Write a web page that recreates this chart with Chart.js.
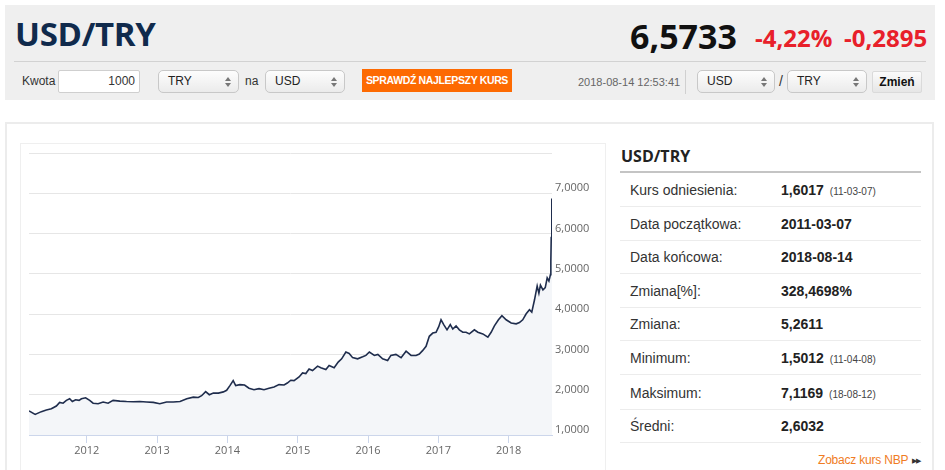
<!DOCTYPE html>
<html lang="pl">
<head>
<meta charset="utf-8">
<title>USD/TRY</title>
<script src="https://cdn.jsdelivr.net/npm/chart.js@4.4.1/dist/chart.umd.min.js"></script>
<style>
  html, body { margin: 0; padding: 0; background: #fff; }
  body { width: 945px; height: 470px; overflow: hidden; position: relative;
         font-family: "Liberation Sans", Arial, sans-serif; color: #333; }
  .a { position: absolute; white-space: nowrap; }
  .os { font-family: "Open Sans", "Liberation Sans", sans-serif; }

  /* header */
  #head { left: 5px; top: 5px; width: 930px; height: 95px; background: #efefef; }
  #title { left: 15px; top: 17px; font-size: 33px; line-height: 33px; font-weight: 700; color: #102a4c; letter-spacing: -0.3px; }
  #rate { left: 630px; top: 19px; font-size: 34px; line-height: 34px; font-weight: 700; color: #111; }
  .chg { top: 26px; font-size: 24px; line-height: 24px; font-weight: 700; color: #e8202a; }
  #sep { left: 14px; top: 61px; width: 912px; height: 1px; background: #d2d2d2; }
  .lbl { font-size: 12px; line-height: 14px; top: 74px; color: #333; }
  .inp { top: 70px; height: 23px; background: #fff; border: 1px solid #cfcfcf; border-radius: 2px;
         box-sizing: border-box; font-size: 12px; line-height: 21px; text-align: right; padding-right: 4px; }
  .sel { top: 70px; height: 23px; border: 1px solid #c8c8c8; border-radius: 5px; box-sizing: border-box;
         background: linear-gradient(#fdfdfd, #ebebeb); font-size: 12px; line-height: 20px; padding-left: 9px; color: #222; }
  .sel::before, .sel::after { content: ""; position: absolute; right: 7px; border-left: 3px solid transparent; border-right: 3px solid transparent; }
  .sel::before { top: 6px; border-bottom: 4px solid #777; }
  .sel::after { top: 12px; border-top: 4px solid #777; }
  #btn { left: 362px; top: 69px; width: 150px; height: 23px; background: #fd6a02; color: #fff;
         font-size: 10.5px; line-height: 23px; font-weight: 700; text-align: center; letter-spacing: -0.35px; }
  #stamp { left: 578px; top: 76px; font-size: 11px; line-height: 13px; color: #666; }
  #vsep { left: 685px; top: 70px; width: 1px; height: 24px; background: #d0d0d0; }
  #zmien { left: 872px; top: 71px; width: 50px; height: 22px; box-sizing: border-box; border: 1px solid #dadada;
           border-radius: 2px; background: linear-gradient(#fbfbfb, #e6e6e6); font-size: 12px; font-weight: 700;
           line-height: 20px; text-align: center; color: #111; }

  /* body panels */
  #outer { left: 5px; top: 122px; width: 929px; height: 360px; border: 2px solid #ececec; box-sizing: border-box; }
  #chartBorder { left: 20px; top: 143px; width: 586px; height: 340px; border: 1px solid #efefef; box-sizing: border-box; }
  #chartWrap { position: absolute; left: 20px; top: 143px; width: 585px; height: 320px; }

  #sideTitle { left: 621px; top: 147px; font-size: 16px; line-height: 18px; font-weight: 700; color: #222; }
  #sideLine { left: 620px; top: 171px; width: 301px; height: 2px; background: #c4c4c4; }
  .row { left: 620px; width: 301px; height: 33px; border-bottom: 1px solid #ececec; }
  .row .k { position: absolute; left: 10px; top: 9px; font-size: 14px; line-height: 16px; color: #333; }
  .row .v { position: absolute; left: 161px; top: 9px; font-size: 14px; line-height: 16px; font-weight: 700; color: #222; }
  .row .v small { font-size: 10px; font-weight: 400; color: #444; margin-left: 6px; }
  #nbp { left: 818px; top: 453px; font-size: 12px; line-height: 15px; color: #f07c23; letter-spacing: -0.2px; }
  #nbp span { font-size: 7px; color: #333; letter-spacing: -1px; margin-left: 4px; vertical-align: 1px; }
</style>
</head>
<body>
  <div class="a" id="head"></div>
  <div class="a os" id="title">USD/TRY</div>
  <div class="a os" id="rate">6,5733</div>
  <div class="a os chg" style="left:755px">-4,22%</div>
  <div class="a os chg" style="left:844px">-0,2895</div>
  <div class="a" id="sep"></div>

  <div class="a lbl" style="left:22px">Kwota</div>
  <div class="a inp" style="left:58px; width:82px">1000</div>
  <div class="a sel" style="left:158px; width:81px">TRY</div>
  <div class="a lbl" style="left:245px">na</div>
  <div class="a sel" style="left:265px; width:80px">USD</div>
  <div class="a" id="btn">SPRAWDŹ NAJLEPSZY KURS</div>

  <div class="a" id="stamp">2018-08-14 12:53:41</div>
  <div class="a" id="vsep"></div>
  <div class="a sel" style="left:697px; width:78px">USD</div>
  <div class="a lbl" style="left:779px; font-size:14px">/</div>
  <div class="a sel" style="left:787px; width:80px">TRY</div>
  <div class="a" id="zmien">Zmień</div>

  <div class="a" id="outer"></div>
  <div class="a" id="chartBorder"></div>
  <div id="chartWrap"><canvas id="fxchart"></canvas></div>

  <div class="a os" id="sideTitle">USD/TRY</div>
  <div class="a" id="sideLine"></div>
  <div class="a row" style="top:173px"><span class="k">Kurs odniesienia:</span><span class="v">1,6017<small>(11-03-07)</small></span></div>
  <div class="a row" style="top:207px"><span class="k">Data początkowa:</span><span class="v">2011-03-07</span></div>
  <div class="a row" style="top:240px"><span class="k">Data końcowa:</span><span class="v">2018-08-14</span></div>
  <div class="a row" style="top:274px"><span class="k">Zmiana[%]:</span><span class="v">328,4698%</span></div>
  <div class="a row" style="top:307px"><span class="k">Zmiana:</span><span class="v">5,2611</span></div>
  <div class="a row" style="top:341px"><span class="k">Minimum:</span><span class="v">1,5012<small>(11-04-08)</small></span></div>
  <div class="a row" style="top:376px"><span class="k">Maksimum:</span><span class="v">7,1169<small>(18-08-12)</small></span></div>
  <div class="a row" style="top:409px"><span class="k">Średni:</span><span class="v">2,6032</span></div>
  <div class="a" id="nbp">Zobacz kurs NBP<span>▶▶</span></div>

<script>
// USD/TRY rate
const dates = [
  '2011-03-07','2011-04-08','2011-05-10','2011-06-05','2011-07-01','2011-07-27','2011-08-13','2011-08-31',
  '2011-09-17','2011-10-04','2011-10-18','2011-11-04','2011-11-22','2011-12-04','2011-12-26','2012-01-16',
  '2012-02-03','2012-02-29','2012-03-26','2012-04-21','2012-05-17','2012-06-21','2012-07-26','2012-08-30',
  '2012-10-03','2012-11-07','2012-12-12','2013-01-15','2013-02-19','2013-03-26','2013-04-30','2013-06-04',
  '2013-07-08','2013-08-03','2013-08-20','2013-09-10','2013-09-29','2013-10-20','2013-11-15','2013-12-11',
  '2013-12-28','2014-01-14','2014-01-31','2014-02-13','2014-03-07','2014-03-31','2014-04-23','2014-05-19',
  '2014-06-14','2014-07-10','2014-08-05','2014-08-31','2014-09-26','2014-10-22','2014-11-08','2014-11-26',
  '2014-12-13','2015-01-08','2015-01-26','2015-02-12','2015-03-01','2015-03-19','2015-04-14','2015-05-01',
  '2015-05-27','2015-06-13','2015-07-09','2015-07-30','2015-08-17','2015-09-08','2015-09-25','2015-10-13',
  '2015-11-08','2015-12-04','2015-12-21','2016-01-08','2016-02-03','2016-02-21','2016-03-17','2016-04-12',
  '2016-04-29','2016-05-25','2016-06-21','2016-07-17','2016-08-12','2016-09-07','2016-09-24','2016-10-12',
  '2016-10-29','2016-11-15','2016-12-03','2016-12-20','2017-01-03','2017-01-15','2017-01-29','2017-02-15',
  '2017-03-04','2017-03-17','2017-04-03','2017-04-20','2017-05-08','2017-05-25','2017-06-11','2017-07-07',
  '2017-07-25','2017-08-20','2017-09-15','2017-10-02','2017-10-19','2017-11-09','2017-11-27','2017-12-19',
  '2018-01-14','2018-02-09','2018-02-26','2018-03-15','2018-04-02','2018-04-19','2018-05-01','2018-05-15',
  '2018-05-29','2018-06-07','2018-06-15','2018-06-28','2018-07-10','2018-07-20','2018-07-29','2018-08-06',
  '2018-08-08','2018-08-10','2018-08-13','2018-08-14'
];
const rates = [
  1.60, 1.51, 1.58, 1.62, 1.65, 1.72, 1.81, 1.79,
  1.86, 1.90, 1.83, 1.875, 1.86, 1.90, 1.925, 1.86,
  1.79, 1.775, 1.82, 1.79, 1.86, 1.84, 1.83, 1.825,
  1.83, 1.82, 1.81, 1.775, 1.82, 1.82, 1.83, 1.90,
  1.94, 1.93, 1.975, 2.075, 2.00, 2.04, 2.04, 2.07,
  2.11, 2.225, 2.35, 2.225, 2.25, 2.24, 2.16, 2.125,
  2.15, 2.125, 2.16, 2.19, 2.25, 2.24, 2.29, 2.36,
  2.35, 2.44, 2.54, 2.525, 2.64, 2.60, 2.71, 2.67,
  2.625, 2.725, 2.67, 2.81, 2.89, 3.06, 3.025, 2.92,
  2.89, 2.94, 2.975, 3.06, 2.975, 3.00, 2.89, 2.85,
  2.975, 3.00, 2.92, 3.08, 2.975, 2.975, 3.01, 3.10,
  3.20, 3.45, 3.53, 3.55, 3.69, 3.86, 3.74, 3.61,
  3.74, 3.63, 3.71, 3.61, 3.55, 3.55, 3.51, 3.61,
  3.55, 3.51, 3.43, 3.55, 3.71, 3.86, 3.96, 3.86,
  3.78, 3.76, 3.79, 3.86, 4.01, 4.11, 4.05, 4.35,
  4.70, 4.52, 4.72, 4.60, 4.66, 4.90, 4.82, 4.98,
  5.31, 5.90, 6.87, 6.57
];
const yearTicks = [2012, 2013, 2014, 2015, 2016, 2017, 2018];
const firstDate = '2011-03-07';
const lastDate = '2018-08-14';
const yMin = 1, yMax = 8;

// date string -> fractional year for the linear x axis
function toYear(s) {
    const d = Date.parse(s + 'T00:00:00Z');
    const y = new Date(d).getUTCFullYear();
    const a = Date.UTC(y, 0, 1), b = Date.UTC(y + 1, 0, 1);
    return y + (d - a) / (b - a);
}

document.addEventListener('DOMContentLoaded', function () {
    Chart.defaults.font.family = '"Open Sans", "Liberation Sans", sans-serif';
    Chart.defaults.font.size = 11;
    Chart.defaults.color = '#666';

    const points = dates.map((d, i) => ({ x: toYear(d), y: rates[i] }));

    const ctx = document.getElementById('fxchart').getContext('2d');
    new Chart(ctx, {
        type: 'line',
        data: {
            datasets: [{
                data: points,
                borderColor: '#1f2d4d',
                borderWidth: 1.6,
                backgroundColor: '#f4f6f9',
                fill: 'start',
                pointRadius: 0,
                tension: 0
            }]
        },
        options: {
            responsive: true,
            maintainAspectRatio: false,
            animation: false,
            layout: { padding: { left: 9, top: 10, right: 0, bottom: 0 } },
            plugins: {
                legend: { display: false },
                tooltip: { enabled: false }
            },
            scales: {
                x: {
                    type: 'linear',
                    min: toYear(firstDate),
                    max: toYear(lastDate),
                    // only whole years get a tick
                    afterBuildTicks: scale => {
                        scale.ticks = yearTicks.map(v => ({ value: v }));
                    },
                    afterFit: scale => { scale.height = 28; },
                    ticks: {
                        padding: 1,
                        maxRotation: 0,
                        autoSkip: false,
                        callback: v => String(Math.round(v))
                    },
                    grid: {
                        drawOnChartArea: false,
                        drawTicks: true,
                        tickLength: 8,
                        color: '#ccd6eb'
                    },
                    border: { display: true, color: '#ccd6eb' }
                },
                y: {
                    position: 'right',
                    min: yMin,
                    max: yMax,
                    afterFit: scale => { scale.width = 53; },
                    ticks: {
                        stepSize: 1,
                        padding: 3,
                        labelOffset: -5,
                        callback: v => v === yMax ? '' : v.toFixed(4).replace('.', ',')
                    },
                    grid: { color: '#e6e6e6', drawTicks: false },
                    border: { display: false }
                }
            }
        }
    });
});
</script>
</body>
</html>
